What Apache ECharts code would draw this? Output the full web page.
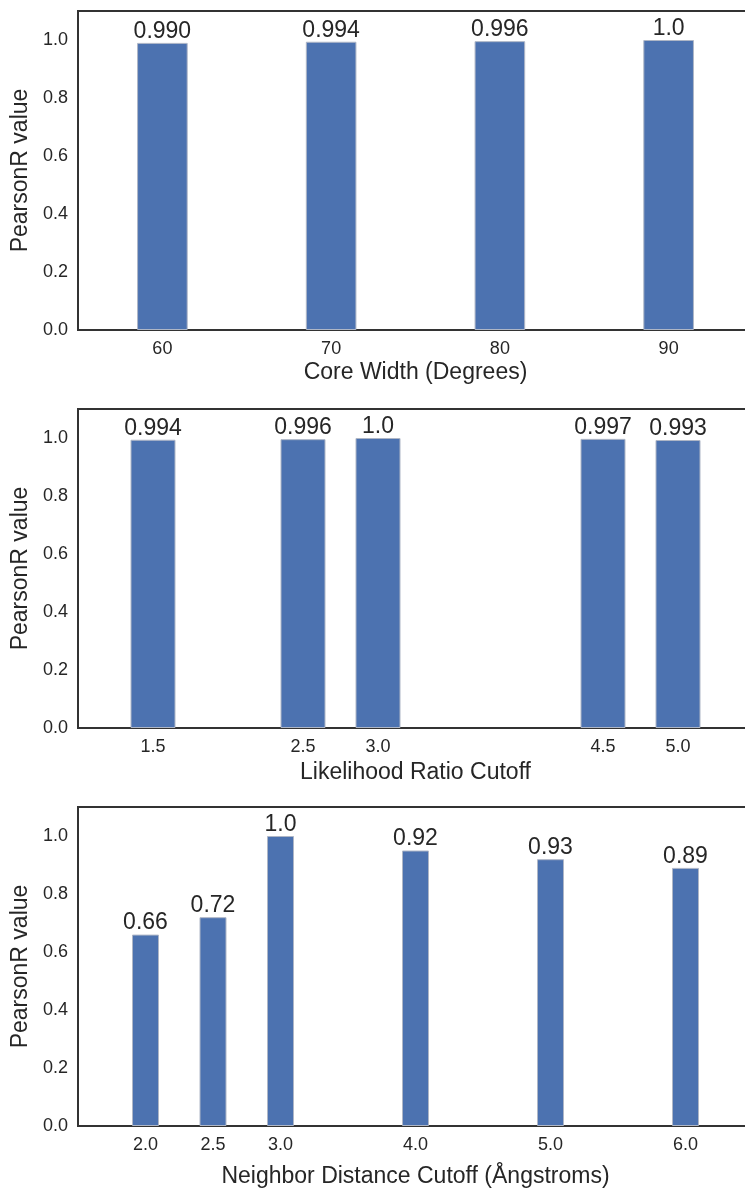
<!DOCTYPE html>
<html><head><meta charset="utf-8">
<script src="https://cdn.jsdelivr.net/npm/echarts@6/dist/echarts.min.js"></script>
<style>html,body{margin:0;padding:0;overflow:hidden;background:#fff}#c{width:760px;height:1189px}</style>
</head><body><div id="c"></div>
<script>
// ---- data ----
const coreWidth = [60, 70, 80, 90];
const coreValues = [0.990, 0.994, 0.996, 1.0];
const coreLabels = ['0.990', '0.994', '0.996', '1.0'];
const coreTicks = ['60', '70', '80', '90'];

const lrCutoff = [1.5, 2.5, 3.0, 4.5, 5.0];
const lrValues = [0.994, 0.996, 1.0, 0.997, 0.993];
const lrLabels = ['0.994', '0.996', '1.0', '0.997', '0.993'];
const lrTicks = ['1.5', '2.5', '3.0', '4.5', '5.0'];

const ndCutoff = [2.0, 2.5, 3.0, 4.0, 5.0, 6.0];
const ndValues = [0.66, 0.72, 1.0, 0.95, 0.92, 0.89];
const ndLabels = ['0.66', '0.72', '1.0', '0.92', '0.93', '0.89'];
const ndTicks = ['2.0', '2.5', '3.0', '4.0', '5.0', '6.0'];

const yTicks = ['0.0', '0.2', '0.4', '0.6', '0.8', '1.0'];

// ---- layout ----
const FONT = 'Liberation Sans, Arial, sans-serif';
const TXT = '#262626';
const BAR = '#4C72B0';
const LEFT = 78, RIGHT = 7, CW = 760;
const GW = CW - LEFT - RIGHT;
const GH = 319;

const panels = [
  {x: coreWidth, y: coreValues, lab: coreLabels, ticks: coreTicks, min: 55, max: 95, w: 3, name: 'Core Width (Degrees)', top: 11, gap: 31},
  {x: lrCutoff, y: lrValues, lab: lrLabels, ticks: lrTicks, min: 1.0, max: 5.5, w: 0.3, name: 'Likelihood Ratio Cutoff', top: 409, gap: 33},
  {x: ndCutoff, y: ndValues, lab: ndLabels, ticks: ndTicks, min: 1.5, max: 6.5, w: 0.2, name: 'Neighbor Distance Cutoff (Ångstroms)', top: 807, gap: 39}
];

const grid = [], xAxis = [], yAxis = [], series = [];
panels.forEach((p, i) => {
  grid.push({left: LEFT, width: GW, top: p.top, height: GH, show: true,
    borderColor: '#333', borderWidth: 2, backgroundColor: '#fff'});
  xAxis.push({type: 'value', gridIndex: i, min: p.min, max: p.max,
    name: p.name, nameLocation: 'middle', nameGap: p.gap,
    nameTextStyle: {fontFamily: FONT, fontSize: 23, color: TXT},
    axisLine: {show: false}, axisTick: {show: false}, splitLine: {show: false},
    axisLabel: {customValues: p.x, fontFamily: FONT, fontSize: 18, color: TXT, margin: 10,
      formatter: v => { const k = p.x.findIndex(t => Math.abs(t - v) < 1e-9); return k >= 0 ? p.ticks[k] : ''; }}
  });
  yAxis.push({type: 'value', gridIndex: i, min: 0, max: 1.1,
    name: 'PearsonR value', nameLocation: 'middle', nameGap: 44, nameRotate: 90,
    nameTextStyle: {fontFamily: FONT, fontSize: 23, color: TXT},
    axisLine: {show: false}, axisTick: {show: false}, splitLine: {show: false},
    axisLabel: {customValues: yTicks.map(Number), fontFamily: FONT, fontSize: 18, color: TXT, margin: 10,
      formatter: v => v.toFixed(1)}
  });
  series.push({type: 'bar', xAxisIndex: i, yAxisIndex: i,
    barWidth: GW / (p.max - p.min) * p.w,
    data: p.x.map((xv, k) => [xv, p.y[k]]),
    itemStyle: {color: BAR, borderColor: '#aeb6c6', borderWidth: 1},
    label: {show: true, position: 'top', distance: 0, fontFamily: FONT, fontSize: 23, color: TXT,
      formatter: prm => p.lab[prm.dataIndex]},
    animation: false
  });
});

const chart = echarts.init(document.getElementById('c'), null, {renderer: 'canvas'});
chart.setOption({animation: false, backgroundColor: '#fff', grid, xAxis, yAxis, series});
</script>
</body></html>
